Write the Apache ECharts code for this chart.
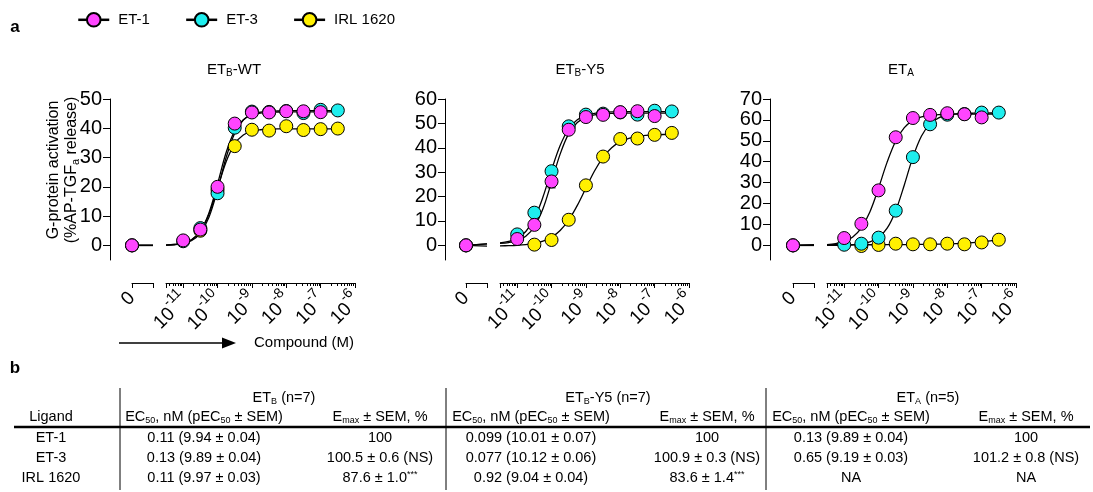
<!DOCTYPE html>
<html><head><meta charset="utf-8">
<script src="https://cdn.jsdelivr.net/npm/echarts@6/dist/echarts.min.js"></script>
<style>html,body{margin:0;padding:0;background:#fff}#c{width:1093px;height:492px}</style>
</head><body><div id="c"></div>
<script>
// ---------------- data ----------------
const ligands = ['ET-1', 'ET-3', 'IRL 1620'];
const panelTitles = ['ET{sub|B}-WT', 'ET{sub|B}-Y5', 'ET{sub|A}'];
const yMaxs = [50, 60, 70];
const yMins = [-5, -6, -7];
const yTicks = [[0, 10, 20, 30, 40, 50], [0, 10, 20, 30, 40, 50, 60], [0, 10, 20, 30, 40, 50, 60, 70]];
const xMajorTicks = [-11, -10, -9, -8, -7, -6];        // log10 M
const xTickExponents = ['-11', '-10', '-9', '-8', '-7', '-6'];
const zeroTickLabel = '0';
const concET1 = [-11, -10.5, -10, -9.5, -9, -8.5, -8, -7.5, -7];
const concET3 = [-11, -10.5, -10, -9.5, -9, -8.5, -8, -7.5, -7, -6.5];
const concIRL = [-10.5, -10, -9.5, -9, -8.5, -8, -7.5, -7, -6.5];
const curveX = [-11.5, -11.25, -11, -10.75, -10.5, -10.25, -10, -9.75, -9.5, -9.25, -9, -8.75, -8.5, -8.25, -8, -7.75, -7.5, -7.25, -7, -6.75, -6.5];

// ETB-WT
const wtET1 = [1.7, 5.4, 20.0, 41.6, 45.4, 45.4, 45.8, 45.8, 45.5];
const wtET3 = [1.4, 5.9, 17.8, 40.2, 45.7, 45.6, 45.9, 45.2, 46.3, 46.1];
const wtIRL = [5.0, 19.0, 33.9, 39.5, 39.2, 40.7, 39.4, 39.7, 39.9];
const wtZero = [0, 0, 0];
const wtBase = [0, 0, 0];
const wtET1Fit = [0.11, 0.29, 0.77, 1.98, 4.9, 11.1, 21.0, 31.7, 39.1, 42.9, 44.6, 45.2, 45.45, 45.55, 45.6, 45.6, 45.6, 45.6, 45.6, 45.6, 45.6];
const wtET3Fit = [0.09, 0.24, 0.64, 1.65, 4.2, 9.6, 19.0, 30.0, 38.3, 42.8, 44.7, 45.5, 45.8, 45.9, 46.0, 46.0, 46.0, 46.0, 46.0, 46.0, 46.0];
const wtIRLFit = [0.11, 0.29, 0.75, 1.93, 4.8, 10.6, 19.5, 28.6, 34.7, 37.7, 39.0, 39.5, 39.7, 39.8, 39.8, 39.8, 39.8, 39.8, 39.8, 39.8, 39.8];

// ETB-Y5
const y5ET1 = [2.6, 8.4, 26.2, 47.4, 52.6, 53.5, 54.6, 55.0, 53.0];
const y5ET3 = [4.5, 13.4, 30.4, 48.8, 53.6, 54.0, 54.5, 53.6, 55.2, 54.9];
const y5IRL = [0.3, 2.2, 10.5, 24.6, 36.4, 43.6, 43.8, 45.3, 46.1];
const y5ET1Sem = [0, 0, 2.6, 0, 0, 0, 0, 0, 0];
const y5ET3Sem = [0, 2.0, 1.9, 0, 0, 0, 0, 0, 0, 0];
const y5Zero = [0, 0, 0];
const y5Base = [0.6, 0.6, -0.3];
const y5ET1Fit = [0.83, 1.15, 1.92, 3.72, 7.62, 15.0, 26.0, 37.4, 45.8, 50.4, 52.6, 53.5, 53.9, 54.1, 54.15, 54.2, 54.2, 54.2, 54.2, 54.2, 54.2];
const y5ET3Fit = [1.05, 1.64, 2.9, 5.7, 11.0, 19.8, 30.9, 40.9, 47.8, 51.5, 53.3, 54.15, 54.5, 54.7, 54.8, 54.8, 54.8, 54.8, 54.8, 54.8, 54.8];
const y5IRLFit = [-0.21, -0.13, 0.01, 0.28, 0.78, 1.70, 3.33, 6.1, 10.4, 16.4, 23.5, 30.5, 36.1, 40.0, 42.5, 43.9, 44.7, 45.1, 45.3, 45.45, 45.5];

// ETA
const etaET1 = [3.5, 10.3, 26.3, 51.7, 60.9, 62.4, 63.2, 62.7, 61.2];
const etaET3 = [0.3, 0.8, 3.7, 16.6, 42.2, 57.9, 62.5, 62.8, 63.5, 63.5];
const etaIRL = [-0.3, 0.2, 0.8, 0.5, 0.5, 0.8, 0.5, 1.4, 2.7];
const etaZero = [0, 0, 0];
const etaBase = [0, 0, 0.3];
const etaET1Fit = [0.38, 0.85, 1.9, 4.05, 8.4, 16.1, 27.4, 39.8, 49.9, 56.3, 59.7, 61.4, 62.2, 62.5, 62.7, 62.75, 62.8, 62.8, 62.8, 62.8, 62.8];
const etaET3Fit = [0.02, 0.05, 0.13, 0.30, 0.70, 1.64, 3.76, 8.2, 16.6, 28.9, 42.2, 52.3, 58.1, 61.0, 62.3, 62.9, 63.1, 63.2, 63.25, 63.3, 63.3];
const etaIRLFit = [0.3, 0.3, 0.3, 0.3, 0.3, 0.3, 0.3, 0.35, 0.35, 0.4, 0.4, 0.45, 0.5, 0.55, 0.65, 0.8, 1.0, 1.3, 1.7, 2.1, 2.6];

// table
const tableGroupHeaders = ['ET{sub|B} (n=7)', 'ET{sub|B}-Y5 (n=7)', 'ET{sub|A} (n=5)'];
const tableColHeaders = ['Ligand', 'EC{sub|50}, nM (pEC{sub|50} ± SEM)', 'E{sub|max} ± SEM, %', 'EC{sub|50}, nM (pEC{sub|50} ± SEM)', 'E{sub|max} ± SEM, %', 'EC{sub|50}, nM (pEC{sub|50} ± SEM)', 'E{sub|max} ± SEM, %'];
const tableRowET1 = ['ET-1', '0.11 (9.94 ± 0.04)', '100', '0.099 (10.01 ± 0.07)', '100', '0.13 (9.89 ± 0.04)', '100'];
const tableRowET3 = ['ET-3', '0.13 (9.89 ± 0.04)', '100.5 ± 0.6 (NS)', '0.077 (10.12 ± 0.06)', '100.9 ± 0.3 (NS)', '0.65 (9.19 ± 0.03)', '101.2 ± 0.8 (NS)'];
const tableRowIRL = ['IRL 1620', '0.11 (9.97 ± 0.03)', '87.6 ± 1.0{sup|***}', '0.92 (9.04 ± 0.04)', '83.6 ± 1.4{sup|***}', 'NA', 'NA'];

// ---------------- layout / style ----------------
const FONT = "'Liberation Sans', Arial, Helvetica, sans-serif";
const COLORS = ['#FF45FF', '#1FEEEE', '#FFF000'];
const TOP = 99, H = 161;
const panels = [
  {yAxisX: 110, zeroL: 132, zeroR: 153, logL: 166, logR: 355, titleX: 234},
  {yAxisX: 445, zeroL: 466, zeroR: 487, logL: 500, logR: 689, titleX: 580},
  {yAxisX: 770, zeroL: 793, zeroR: 814, logL: 827, logR: 1016, titleX: 901}
];
const panelSets = [
  {resp: [wtET1, wtET3, wtIRL], fit: [wtET1Fit, wtET3Fit, wtIRLFit], zero: wtZero, base: wtBase, sem: [null, null, null]},
  {resp: [y5ET1, y5ET3, y5IRL], fit: [y5ET1Fit, y5ET3Fit, y5IRLFit], zero: y5Zero, base: y5Base, sem: [y5ET1Sem, y5ET3Sem, null]},
  {resp: [etaET1, etaET3, etaIRL], fit: [etaET1Fit, etaET3Fit, etaIRLFit], zero: etaZero, base: etaBase, sem: [null, null, null]}
];
const concs = [concET1, concET3, concIRL];
const X_OFF = 23;
const LOG_MIN = -11.5, LOG_MAX = -6;

const minorTicks = [];
for (let d = -12; d < -6; d++) {
  for (let m = 2; m <= 9; m++) {
    const v = d + Math.log10(m);
    if (v > LOG_MIN && v < LOG_MAX) minorTicks.push(v);
  }
}
const black = {color: '#000', width: 1};
// labels split into two interleaved sets so that the rotated labels never collide
const labelsOdd = xMajorTicks.filter((v, i) => i % 2 === 0);
const labelsEven = xMajorTicks.filter((v, i) => i % 2 === 1);
const expLabel = v => '{b|10}{s|' + xTickExponents[xMajorTicks.indexOf(Math.round(v))] + '}';
const expRich = {b: {fontSize: 19, fontFamily: FONT, color: '#000', lineHeight: 26, verticalAlign: 'bottom'},
                 s: {fontSize: 14, fontFamily: FONT, color: '#000', lineHeight: 16, verticalAlign: 'top'}};

const grids = [], xAxes = [], yAxes = [], series = [];
const zeroSeries = [], curveSeries = [], errSeries = [], markerSeries = [];

panels.forEach((P, i) => {
  const gz = grids.length;
  grids.push({left: P.zeroL, top: TOP, width: P.zeroR - P.zeroL, height: H, containLabel: false, outerBoundsMode: 'none'});
  const gl = grids.length;
  grids.push({left: P.logL, top: TOP, width: P.logR - P.logL, height: H, containLabel: false, outerBoundsMode: 'none'});

  const xz = xAxes.length;
  xAxes.push({gridIndex: gz, type: 'value', min: 0, max: 1, position: 'bottom', offset: X_OFF,
    axisLine: {show: true, onZero: false, lineStyle: black},
    axisTick: {show: true, customValues: [0, 1], length: 5, lineStyle: black},
    axisLabel: {show: true, customValues: [0], formatter: () => zeroTickLabel, rotate: 45, margin: 12,
      showMinLabel: true, showMaxLabel: true, hideOverlap: false,
      fontSize: 19, fontFamily: FONT, color: '#000'},
    splitLine: {show: false}});
  const xl = xAxes.length;
  xAxes.push({gridIndex: gl, type: 'value', min: LOG_MIN, max: LOG_MAX, position: 'bottom', offset: X_OFF,
    axisLine: {show: true, onZero: false, lineStyle: black},
    axisTick: {show: true, customValues: [LOG_MIN].concat(xMajorTicks), length: 5, lineStyle: black},
    axisLabel: {show: true, customValues: labelsOdd, rotate: 45, margin: 12, color: '#000',
      showMinLabel: true, showMaxLabel: true, hideOverlap: false, formatter: expLabel, rich: expRich},
    splitLine: {show: false}});
  xAxes.push({gridIndex: gl, type: 'value', min: LOG_MIN, max: LOG_MAX, position: 'bottom', offset: X_OFF,
    axisLine: {show: false, onZero: false}, axisTick: {show: false},
    axisLabel: {show: true, customValues: labelsEven, rotate: 45, margin: 12, color: '#000',
      showMinLabel: true, showMaxLabel: true, hideOverlap: false, formatter: expLabel, rich: expRich},
    splitLine: {show: false}});
  xAxes.push({gridIndex: gl, type: 'value', min: LOG_MIN, max: LOG_MAX, position: 'bottom', offset: X_OFF,
    axisLine: {show: false, onZero: false},
    axisTick: {show: true, customValues: minorTicks, length: 3, lineStyle: black},
    axisLabel: {show: false}, splitLine: {show: false}});

  const yz = yAxes.length;
  yAxes.push({gridIndex: gz, type: 'value', min: yMins[i], max: yMaxs[i], position: 'left', offset: P.zeroL - P.yAxisX,
    axisLine: {show: true, onZero: false, lineStyle: black},
    axisTick: {show: true, customValues: yTicks[i], length: 7, lineStyle: black},
    axisLabel: {show: true, customValues: yTicks[i], margin: 8, fontSize: 20, fontFamily: FONT, color: '#000',
      showMinLabel: true, showMaxLabel: true},
    splitLine: {show: false}});
  const yl = yAxes.length;
  yAxes.push({gridIndex: gl, type: 'value', min: yMins[i], max: yMaxs[i], show: false,
    axisLine: {show: false, onZero: false}, splitLine: {show: false}});

  const S = panelSets[i];
  [2, 1, 0].forEach(k => {
    const name = ligands[k];
    zeroSeries.push({type: 'line', name, xAxisIndex: xz, yAxisIndex: yz,
      data: [[0, S.zero[k]], {value: [0, S.base[k]], symbol: 'none'}, {value: [1, S.base[k]], symbol: 'none'}],
      symbol: 'circle', symbolSize: 13, showAllSymbol: true,
      itemStyle: {color: COLORS[k], borderColor: '#000', borderWidth: 1},
      lineStyle: {color: '#000', width: 1.4}, z: 5, clip: false, silent: true});
    curveSeries.push({type: 'line', name, xAxisIndex: xl, yAxisIndex: yl,
      data: curveX.map((x, j) => [x, S.fit[k][j]]), symbol: 'none', smooth: 0.35,
      lineStyle: {color: '#000', width: 1.3}, itemStyle: {color: COLORS[k]}, z: 2, clip: false, silent: true});
    if (S.sem[k]) {
      const ed = [];
      concs[k].forEach((x, j) => { const s = S.sem[k][j]; if (s > 0) ed.push([x, S.resp[k][j] - s, S.resp[k][j] + s]); });
      errSeries.push({type: 'custom', name, xAxisIndex: xl, yAxisIndex: yl, data: ed, z: 3, silent: true, clip: false,
        itemStyle: {color: COLORS[k]},
        renderItem: (params, api) => {
          const lo = api.coord([api.value(0), api.value(1)]);
          const hi = api.coord([api.value(0), api.value(2)]);
          const st = {stroke: '#000', lineWidth: 1.2};
          return {type: 'group', children: [
            {type: 'line', shape: {x1: lo[0], y1: lo[1], x2: hi[0], y2: hi[1]}, style: st},
            {type: 'line', shape: {x1: lo[0] - 4, y1: lo[1], x2: lo[0] + 4, y2: lo[1]}, style: st},
            {type: 'line', shape: {x1: hi[0] - 4, y1: hi[1], x2: hi[0] + 4, y2: hi[1]}, style: st}
          ]};
        }});
    }
    markerSeries.push({type: 'scatter', name, xAxisIndex: xl, yAxisIndex: yl,
      data: concs[k].map((x, j) => [x, S.resp[k][j]]), symbol: 'circle', symbolSize: 13,
      itemStyle: {color: COLORS[k], borderColor: '#000', borderWidth: 1, opacity: 1}, z: 4, clip: false, silent: true});
  });
});
series.push(...zeroSeries, ...curveSeries, ...errSeries, ...markerSeries);

// ---------------- graphic text ----------------
function txt(x, y, text, opt) {
  opt = opt || {};
  const style = Object.assign({text, x: 0, y: 0, fill: '#000', fontFamily: FONT, fontSize: 14,
    align: opt.align || 'center', textAlign: opt.align || 'center',
    verticalAlign: 'middle', textVerticalAlign: 'middle'}, opt.style || {});
  return {type: 'text', x, y, rotation: opt.rotation || 0, silent: true, style};
}
const subRich = (fs) => ({sub: {fontSize: fs, fontFamily: FONT, fill: '#000', color: '#000', verticalAlign: 'bottom', lineHeight: fs + 1},
  sup: {fontSize: fs, fontFamily: FONT, fill: '#000', color: '#000', verticalAlign: 'top', lineHeight: fs + 1}});

const graphics = [];
graphics.push(txt(15, 27, 'a', {style: {fontSize: 17, fontWeight: 'bold'}}));
graphics.push(txt(15, 368, 'b', {style: {fontSize: 17, fontWeight: 'bold'}}));
panels.forEach((P, i) => {
  graphics.push(txt(P.titleX, 70, panelTitles[i], {style: {fontSize: 15, lineHeight: 17, rich: subRich(10)}}));
});
graphics.push(txt(63, 170, 'G-protein activation\n(%AP-TGF{sub|a} release)',
  {rotation: Math.PI / 2, style: {fontSize: 16, lineHeight: 18, rich: subRich(11)}}));
// arrow + axis caption
graphics.push({type: 'line', silent: true, shape: {x1: 119, y1: 343, x2: 224, y2: 343}, style: {stroke: '#000', lineWidth: 1.5}});
graphics.push({type: 'polygon', silent: true, shape: {points: [[222, 337.5], [236, 343], [222, 348.5]]}, style: {fill: '#000'}});
graphics.push(txt(354, 343, 'Compound (M)', {align: 'right', style: {fontSize: 15}}));

// table
const colX = [51, 204, 380, 531, 707, 851, 1026];
const groupX = [284, 608, 928];
const rowY = [438, 458, 478];
const TFS = 14.5;
tableGroupHeaders.forEach((t, i) => graphics.push(txt(groupX[i], 398, t, {style: {fontSize: TFS, lineHeight: 16, rich: subRich(9)}})));
tableColHeaders.forEach((t, i) => graphics.push(txt(colX[i], 417, t, {style: {fontSize: TFS, lineHeight: 16, rich: subRich(9)}})));
[tableRowET1, tableRowET3, tableRowIRL].forEach((row, r) => {
  row.forEach((t, i) => graphics.push(txt(colX[i], rowY[r], t, {style: {fontSize: TFS, lineHeight: 16, rich: subRich(9)}})));
});
graphics.push({type: 'line', silent: true, shape: {x1: 14, y1: 427, x2: 1090, y2: 427}, style: {stroke: '#000', lineWidth: 2.5}});
[120, 446, 766].forEach(x => graphics.push({type: 'line', silent: true, shape: {x1: x, y1: 388, x2: x, y2: 490}, style: {stroke: '#000', lineWidth: 1}}));

const option = {
  animation: false,
  backgroundColor: '#fff',
  textStyle: {fontFamily: FONT},
  legend: {data: ligands, left: 72, top: 7, itemWidth: 31, itemHeight: 17, itemGap: 35, selectedMode: false,
    textStyle: {fontSize: 15, fontFamily: FONT, color: '#000', padding: [0, 0, 0, 4]},
    lineStyle: {width: 2.5}},
  grid: grids, xAxis: xAxes, yAxis: yAxes, series, graphic: graphics
};
const chart = echarts.init(document.getElementById('c'), null, {renderer: 'canvas', width: 1093, height: 492});
chart.setOption(option);
</script></body></html>
